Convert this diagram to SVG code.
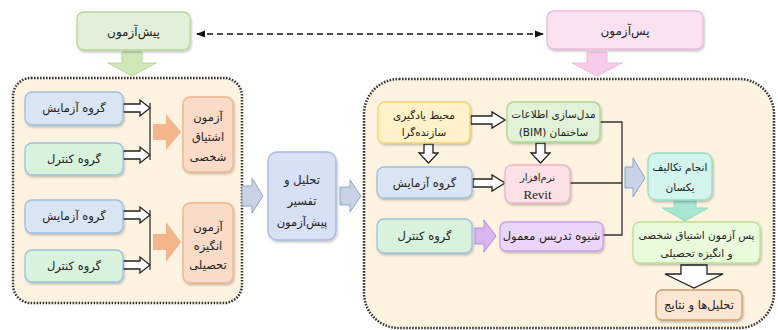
<svg xmlns="http://www.w3.org/2000/svg" width="778" height="330" viewBox="0 0 778 330">
<defs>
<filter id="sh" x="-20%" y="-20%" width="140%" height="150%">
<feDropShadow dx="1" dy="1.5" stdDeviation="1.2" flood-color="#000" flood-opacity="0.25"/>
</filter>
<marker id="ah" viewBox="0 0 10 10" refX="9" refY="5" markerWidth="7" markerHeight="7" orient="auto-start-reverse">
<path d="M0,1 L10,5 L0,9 z" fill="#111"/>
</marker>
</defs>
<style>
text{font-family:"DejaVu Sans","Noto Sans",sans-serif;font-size:11.5px;fill:#222;text-anchor:middle;direction:rtl}
.sm{font-size:10.5px}
.box{filter:url(#sh);stroke-width:1.3}
.cont{fill:#fdf3e0;stroke:#333;stroke-width:2.5;stroke-dasharray:1.6 1.4}
.blue{fill:#dae5f4;stroke:#9dbfe0}
.grn{fill:#d8f2dc;stroke:#9dc3e0}
.org{fill:#f9dbc8;stroke:#f0b48c}
.tgrn{fill:#e2f0d9;stroke:#b4d99a}
.tpnk{fill:#fbe2f2;stroke:#ecbcdc}
.mid{fill:#d8e0f4;stroke:#a8b8e0}
.yel{fill:#fff1c8;stroke:#f8d46a}
.bim{fill:#e0f2d8;stroke:#acd88c}
.rev{fill:#fbe0e6;stroke:#f0b4c4}
.pur{fill:#ead6f8;stroke:#c8a0ec}
.teal{fill:#d2f4ec;stroke:#94dcc4}
.lg{fill:#eafadc;stroke:#b8e490}
.fin{fill:#fbe6d2;stroke:#c8a070}
.wa{fill:#fff;stroke:#222;stroke-width:1.3}
.ln{fill:none;stroke:#333;stroke-width:1.3}
</style>

<rect class="cont" x="13" y="78" width="229" height="225" rx="18"/>
<rect class="cont" x="364" y="79" width="410" height="249" rx="35"/>

<g id="connectors">
<line x1="197" y1="34" x2="543" y2="34" stroke="#111" stroke-width="1.3" stroke-dasharray="6 4" marker-start="url(#ah)" marker-end="url(#ah)"/>
<polygon points="122,52 142,52 142,63 156,63 132,76 108,63 122,63" fill="#cfe8b8" stroke="#b4d99a"/>
<polygon points="587,52 607,52 607,63 622,63 597,76 572,63 587,63" fill="#f8cce8" stroke="#ecbcdc"/>
<polygon class="wa" points="123,104 140,104 140,100 150,108 140,116 140,112 123,112"/>
<polygon class="wa" points="123,151 140,151 140,147 150,155 140,163 140,159 123,159"/>
<line class="ln" x1="150" y1="103" x2="150" y2="160"/>
<polygon class="wa" points="123,211 140,211 140,207 150,215 140,223 140,219 123,219"/>
<polygon class="wa" points="123,261 140,261 140,257 150,265 140,273 140,269 123,269"/>
<line class="ln" x1="150" y1="210" x2="150" y2="270"/>
<polygon points="153,124 166,124 166,114 181,132 166,150 166,140 153,140" fill="#f4b48c"/>
<polygon points="153,234 166,234 166,222 181,242 166,262 166,250 153,250" fill="#f4b48c"/>
<polygon points="242,186 252,186 252,178 263,196 252,213 252,206 242,206" fill="#c9d2e4" stroke="#8fa4c8"/>
<polygon points="340,187 350,187 350,180 361,196 350,212 350,205 340,205" fill="#c9d2e4" stroke="#8fa4c8"/>
<polygon class="wa" points="471,116 492,116 492,112 505,120 492,128 492,124 471,124"/>
<polygon class="wa" points="424,144 433,144 433,153 438,153 428.5,163 419,153 424,153"/>
<polygon class="wa" points="536,143 545,143 545,153 550,153 540.5,163 531,153 536,153"/>
<polygon class="wa" points="473,179 492,179 492,175 505,183 492,191 492,187 473,187"/>
<polygon points="475,228 484,228 484,220 496,236 484,252 484,244 475,244" fill="#d8b6f2" stroke="#b88ae0"/>
<polyline class="ln" points="600,122 622,122 622,235 603,235"/>
<line class="ln" x1="570" y1="183" x2="622" y2="183"/>
<polygon points="625,167 633,167 633,158 645,178 633,197 633,188 625,188" fill="#c9d2e4" stroke="#8fa4c8"/>
<polygon points="674,201 696,201 696,208 708,208 685,221 662,208 674,208" fill="#a8e6d4" stroke="#94dcc4"/>
<polygon class="wa" points="681,265 707,265 707,274 723,274 694,288 665,274 681,274"/>
</g>

<g id="n-pretest"><rect class="box tgrn" x="77" y="12" width="113" height="38" rx="7"/><text x="133.5" y="36" style="font-size:12px">پیش‌آزمون</text></g>
<g id="n-posttest"><rect class="box tpnk" x="547" y="11" width="156" height="38" rx="7"/><text x="625" y="35" style="font-size:12px">پس‌آزمون</text></g>

<g id="n-exp1"><rect class="box blue" x="25" y="92" width="98" height="33" rx="7"/><text x="74" y="112">گروه آزمایش</text></g>
<g id="n-ctl1"><rect class="box grn" x="25" y="143" width="98" height="32" rx="7"/><text x="74" y="163">گروه کنترل</text></g>
<g id="n-exp2"><rect class="box blue" x="25" y="200" width="98" height="33" rx="7"/><text x="74" y="220">گروه آزمایش</text></g>
<g id="n-ctl2"><rect class="box grn" x="25" y="250" width="98" height="32" rx="7"/><text x="74" y="270">گروه کنترل</text></g>

<g id="n-eshtiagh"><rect class="box org" x="183" y="97" width="50" height="75" rx="7"/><text x="208" y="121">آزمون</text><text x="208" y="141">اشتیاق</text><text x="208" y="161">شخصی</text></g>
<g id="n-angizeh"><rect class="box org" x="183" y="203" width="50" height="80" rx="7"/><text x="208" y="231">آزمون</text><text x="208" y="250">انگیزه</text><text x="208" y="269">تحصیلی</text></g>

<g id="n-analysis"><rect class="box mid" x="268" y="152" width="68" height="88" rx="9"/><text x="302" y="184">تحلیل و</text><text x="302" y="205">تفسیر</text><text x="302" y="226">پیش‌آزمون</text></g>

<g id="n-env"><rect class="box yel" x="378" y="102" width="92" height="41" rx="7"/><text x="424" y="119" class="sm">محیط یادگیری</text><text x="424" y="136" class="sm">سازنده‌گرا</text></g>
<g id="n-bim"><rect class="box bim" x="507" y="102" width="93" height="40" rx="7"/><text x="553.5" y="118" class="sm">مدل‌سازی اطلاعات</text><text x="553.5" y="136" class="sm">ساختمان (BIM)</text></g>
<g id="n-exp3"><rect class="box blue" x="377" y="167" width="95" height="31" rx="7"/><text x="424.5" y="187">گروه آزمایش</text></g>
<g id="n-revit"><rect class="box rev" x="505" y="165" width="65" height="38" rx="7"/><text x="537.5" y="181" style="font-size:10px">نرم‌افزار</text><text x="537.5" y="199" style="font-family:'Liberation Serif',serif;font-size:13px">Revit</text></g>
<g id="n-ctl3"><rect class="box grn" x="377" y="219" width="95" height="34" rx="7"/><text x="424.5" y="240">گروه کنترل</text></g>
<g id="n-usual"><rect class="box pur" x="500" y="222" width="103" height="29" rx="6"/><text x="551.5" y="240">شیوه تدریس معمول</text></g>

<g id="n-tasks"><rect class="box teal" x="648" y="153" width="64" height="47" rx="8"/><text x="680" y="171" class="sm">انجام تکالیف</text><text x="680" y="191" class="sm">یکسان</text></g>
<g id="n-post"><rect class="box lg" x="633" y="222" width="127" height="41" rx="7"/><text x="696.5" y="239" class="sm">پس آزمون اشتیاق شخصی</text><text x="696.5" y="257" class="sm">و انگیزه تحصیلی</text></g>
<g id="n-results"><rect class="box fin" x="656" y="290" width="86" height="30" rx="6"/><text x="699" y="309">تحلیل‌ها و نتایج</text></g>
</svg>
